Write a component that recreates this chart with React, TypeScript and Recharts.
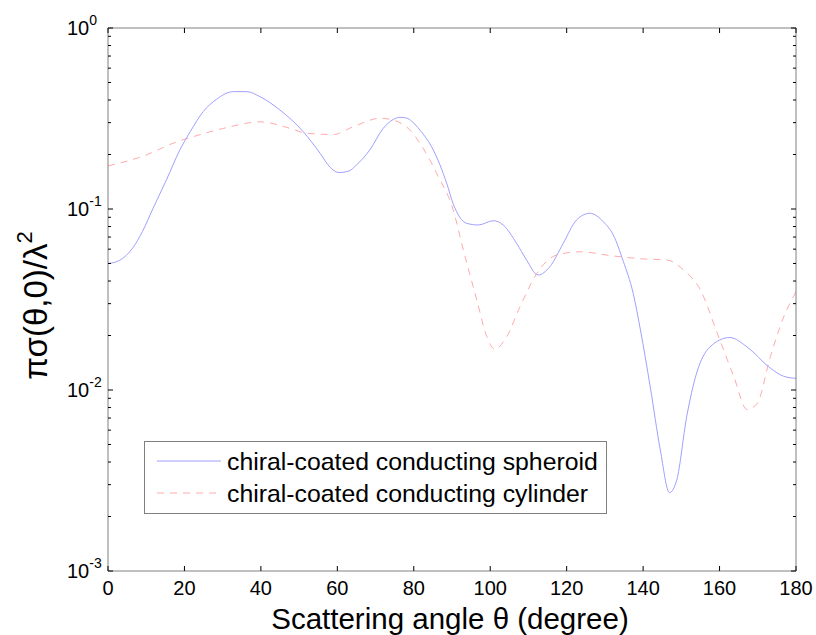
import React from "react";
import { LineChart, Line, XAxis, YAxis, Legend } from "recharts";

const spheroidTheta = [0, 3, 6.5, 9, 11.8, 15.3, 18.8, 21.5, 24.9, 28.4, 32.8, 36.3, 39.8, 45, 51.1, 55.5, 58.1, 60.5, 63, 65, 68.5, 72, 74.6, 76.4, 78.1, 79.5, 81.6, 85.1, 88.6, 90.3, 93.8, 96.9, 100.8, 103.4, 106.9, 109.5, 112.5, 115.6, 119.1, 122.6, 126.1, 129.6, 132.2, 134.8, 137.4, 139.3, 141.9, 144.5, 146.9, 148.8, 151.4, 154, 157.5, 162.7, 167.2, 173.3, 176.8, 180];
const spheroidValue = [0.05, 0.052, 0.061, 0.075, 0.101, 0.145, 0.212, 0.267, 0.345, 0.404, 0.445, 0.445, 0.417, 0.352, 0.267, 0.203, 0.17, 0.159, 0.162, 0.175, 0.212, 0.279, 0.312, 0.321, 0.318, 0.305, 0.273, 0.212, 0.139, 0.107, 0.0834, 0.0816, 0.0862, 0.0816, 0.0646, 0.0523, 0.0432, 0.048, 0.0646, 0.087, 0.0947, 0.085, 0.0718, 0.0515, 0.0342, 0.0215, 0.0103, 0.00466, 0.00271, 0.00318, 0.00712, 0.0124, 0.0173, 0.0195, 0.0173, 0.0132, 0.0119, 0.0116];

const cylinderTheta = [0, 9.2, 18, 22.3, 30.2, 39.8, 47.6, 52, 59, 64.2, 71.2, 74.6, 79, 81.6, 84.2, 86, 90.3, 93, 96.5, 99.1, 101.2, 104.3, 107.8, 112.2, 117.4, 123.5, 132.2, 140, 146.2, 150.6, 155, 159.4, 163.7, 167.2, 169.8, 173.3, 176.8, 180];
const cylinderValue = [0.173, 0.196, 0.235, 0.251, 0.279, 0.303, 0.279, 0.262, 0.258, 0.285, 0.317, 0.31, 0.273, 0.231, 0.187, 0.157, 0.099, 0.059, 0.0314, 0.0197, 0.0168, 0.0197, 0.0289, 0.0441, 0.0557, 0.058, 0.055, 0.053, 0.0523, 0.046, 0.0357, 0.0206, 0.0119, 0.0078, 0.0084, 0.0153, 0.0254, 0.0349];

const xTicks = [0, 20, 40, 60, 80, 100, 120, 140, 160, 180];
const yDecades = [0.001, 0.01, 0.1, 1];
const yMinorMultipliers = [2, 3, 4, 5, 6, 7, 8, 9];

const seriesNames = ["chiral-coated conducting spheroid", "chiral-coated conducting cylinder"];
const xLabelText = "Scattering angle \u03b8 (degree)";
const yLabelText = "\u03c0\u03c3(\u03b8,0)/\u03bb";
const yLabelSup = "2";

const BLUE = "#a0a0ff";
const RED = "#ffaaaa";
const DASH = "7 6";
const FONT = "Arial, 'Liberation Sans', Helvetica, sans-serif";
const AXIS = "#808080";

const W = 816;
const H = 635;
const PL = 108, PT = 28, PR = 796, PB = 571;

const spheroidData = spheroidTheta.map((t, i) => ({ theta: t, v: spheroidValue[i] }));
const cylinderData = cylinderTheta.map((t, i) => ({ theta: t, v: cylinderValue[i] }));

const yTicks: number[] = [];
yDecades.forEach((d, i) => {
  yTicks.push(d);
  if (i < yDecades.length - 1) yMinorMultipliers.forEach((m) => yTicks.push(+(d * m).toPrecision(6)));
});

const isMajor = (v: number) => Math.abs(Math.log10(v) - Math.round(Math.log10(v))) < 1e-6;

const LeftYTick = (props: any) => {
  const { y, payload } = props;
  const v = payload.value;
  const major = isMajor(v);
  const exp = Math.round(Math.log10(v));
  return (
    <g>
      <line x1={PL} x2={PL + (major ? 5 : 3)} y1={y} y2={y} stroke="#000" strokeWidth={1} />
      {major && (
        <text x={67} y={y + 7} fontFamily={FONT} fontSize={20} fill="#000">
          10
          <tspan fontSize={14} dy={-10}>{String(exp)}</tspan>
        </text>
      )}
    </g>
  );
};

const RightYTick = (props: any) => {
  const { y, payload } = props;
  const major = isMajor(payload.value);
  return <line x1={PR} x2={PR - (major ? 5 : 3)} y1={y} y2={y} stroke="#000" strokeWidth={1} />;
};

const BottomXTick = (props: any) => {
  const { x, payload } = props;
  return (
    <g>
      <line x1={x} x2={x} y1={PB} y2={PB - 5} stroke="#000" strokeWidth={1} />
      <text x={x} y={PB + 24} textAnchor="middle" fontFamily={FONT} fontSize={20} fill="#000">
        {payload.value}
      </text>
    </g>
  );
};

const TopXTick = (props: any) => {
  const { x } = props;
  return <line x1={x} x2={x} y1={PT} y2={PT + 5} stroke="#000" strokeWidth={1} />;
};

const XLabel = () => (
  <text x={450} y={629} textAnchor="middle" fontFamily={FONT} fontSize={29.5} fill="#000">
    {xLabelText}
  </text>
);

const YLabel = () => (
  <text
    x={0}
    y={0}
    transform={`translate(47, ${(PT + PB) / 2 + 6}) rotate(-90)`}
    textAnchor="middle"
    fontFamily={FONT}
    fontSize={33}
    fill="#000"
  >
    {yLabelText}
    <tspan fontSize={22} dy={-15}>{yLabelSup}</tspan>
  </text>
);

const LegendBox = () => {
  const styles = [
    { color: BLUE, dash: undefined as string | undefined },
    { color: RED, dash: DASH },
  ];
  return (
    <svg width={463} height={73} style={{ display: "block" }}>
      <rect x={0.5} y={0.5} width={462} height={72} fill="#fff" stroke={AXIS} strokeWidth={1} />
      {seriesNames.map((name, i) => (
        <g key={name}>
          <line x1={13} x2={77} y1={20 + i * 32} y2={20 + i * 32} stroke={styles[i].color} strokeDasharray={styles[i].dash} strokeWidth={1} />
          <text x={83} y={29 + i * 32} fontFamily={FONT} fontSize={24.8} fill="#000">
            {name}
          </text>
        </g>
      ))}
    </svg>
  );
};

export default function App() {
  return (
    <div style={{ position: "absolute", left: 0, top: 0, width: W, height: H, background: "#fff" }}>
      <LineChart width={W} height={H} margin={{ top: 0, right: 0, bottom: 0, left: 0 }}>
        <XAxis
          dataKey="theta"
          type="number"
          domain={[0, 180]}
          ticks={xTicks}
          allowDataOverflow
          height={H - PB}
          tickLine={false}
          tickSize={0}
          axisLine={{ stroke: AXIS }}
          tick={<BottomXTick />}
          interval={0}
          label={<XLabel />}
        />
        <XAxis
          xAxisId="top"
          orientation="top"
          dataKey="theta"
          type="number"
          domain={[0, 180]}
          ticks={xTicks}
          allowDataOverflow
          height={PT}
          tickLine={false}
          tickSize={0}
          axisLine={{ stroke: AXIS }}
          tick={<TopXTick />}
          interval={0}
        />
        <YAxis
          scale="log"
          type="number"
          domain={[0.001, 1]}
          ticks={yTicks}
          allowDataOverflow
          width={PL}
          tickLine={false}
          tickSize={0}
          axisLine={{ stroke: AXIS }}
          tick={<LeftYTick />}
          interval={0}
          label={<YLabel />}
        />
        <YAxis
          yAxisId="right"
          orientation="right"
          scale="log"
          type="number"
          domain={[0.001, 1]}
          ticks={yTicks}
          allowDataOverflow
          width={W - PR}
          tickLine={false}
          tickSize={0}
          axisLine={{ stroke: AXIS }}
          tick={<RightYTick />}
          interval={0}
        />
        <Line
          data={cylinderData}
          dataKey="v"
          name={seriesNames[1]}
          type="monotone"
          stroke={RED}
          strokeWidth={1}
          strokeDasharray={DASH}
          dot={false}
          activeDot={false}
          isAnimationActive={false}
        />
        <Line
          data={spheroidData}
          dataKey="v"
          name={seriesNames[0]}
          type="monotone"
          stroke={BLUE}
          strokeWidth={1}
          dot={false}
          activeDot={false}
          isAnimationActive={false}
        />
        <Legend
          layout="vertical"
          align="center"
          verticalAlign="middle"
          content={<LegendBox />}
          wrapperStyle={{ left: 144, top: 441, width: 463, height: 73 }}
        />
      </LineChart>
    </div>
  );
}
